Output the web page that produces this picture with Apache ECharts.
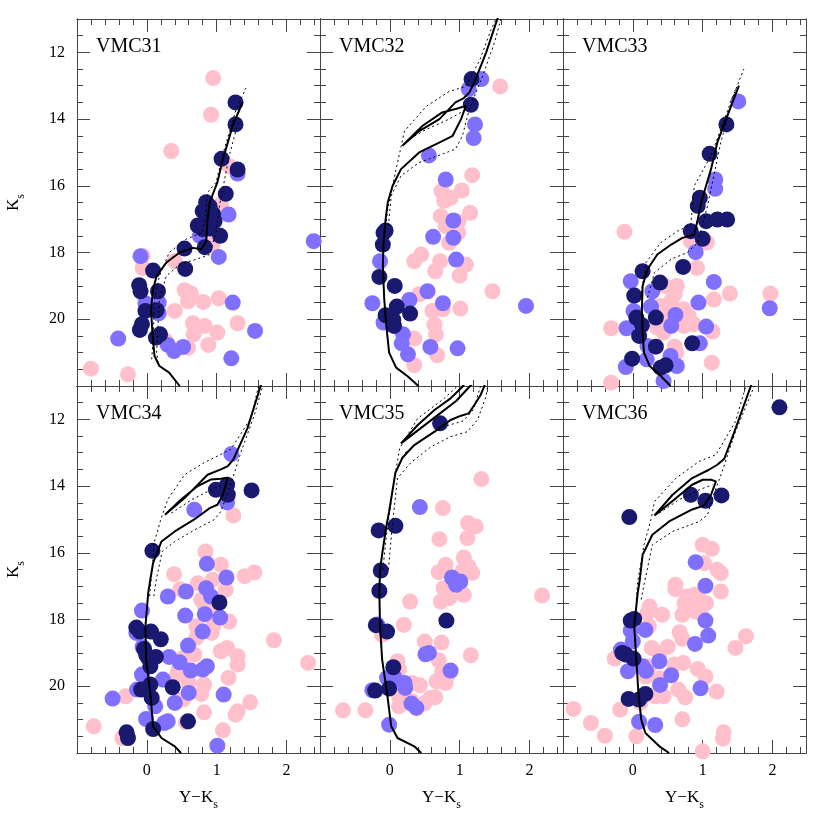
<!DOCTYPE html>
<html>
<head>
<meta charset="utf-8">
<title>VMC CMDs</title>
<script src="https://cdn.jsdelivr.net/npm/echarts@6/dist/echarts.min.js"></script>
<style>
    html, body { margin: 0; padding: 0; background: #ffffff; }
    #main { width: 830px; height: 830px; }
</style>
</head>
<body>
<div id="main"></div>
<script>
    // ---- data: [Y-Ks, Ks] ----
    var xTicks = [0, 1, 2];
    var yTicks = [12, 14, 16, 18, 20];

    var vmc31Pink = [[0.95,12.77],[0.92,13.87],[0.35,14.96],[1.18,15.41],[1.06,16.56],[0.98,17.4],[0.94,17.76],[-0.06,18.1],[-0.06,18.46],[0.40,18.26],[0.54,19.13],[0.63,19.22],[0.59,19.46],[0.81,19.48],[1.03,19.37],[0.40,19.75],[0.66,20.12],[0.83,20.2],[0.67,20.45],[1.01,20.4],[1.30,20.12],[0.27,20.65],[0.59,20.85],[0.88,20.77],[-0.80,21.48],[-0.27,21.65]];
    var vmc31Blue = [[1.30,15.63],[1.17,16.86],[0.76,17.5],[2.39,17.66],[1.03,18.13],[-0.09,18.11],[1.23,19.5],[-0.02,19.52],[0.17,19.5],[0.17,19.82],[1.55,20.35],[-0.41,20.58],[0.30,20.77],[0.39,20.95],[0.52,20.83],[1.21,21.17]];
    var vmc31Navy = [[1.27,13.5],[1.27,14.16],[1.07,15.19],[1.30,15.51],[1.13,16.24],[0.85,16.49],[0.90,16.62],[0.80,16.76],[0.95,16.85],[0.73,17.19],[0.97,17.06],[0.86,17.02],[0.80,17.3],[0.90,17.28],[1.05,17.5],[0.83,17.84],[0.54,17.88],[0.09,18.54],[0.55,18.49],[-0.11,18.98],[-0.09,19.16],[0.16,19.16],[-0.02,19.75],[0.14,19.73],[-0.07,20.15],[-0.10,20.32],[0.19,20.45],[0.13,20.55]];

    var vmc32Pink = [[1.58,13.02],[1.18,15.68],[0.74,16.16],[0.87,16.36],[1.03,16.14],[0.78,16.45],[1.15,16.81],[0.73,16.91],[0.80,17.21],[0.98,17.08],[0.98,17.4],[0.85,17.71],[0.45,18.06],[0.35,18.26],[0.72,18.26],[1.09,18.36],[0.65,18.56],[1.0,18.69],[0.42,19.25],[1.47,19.16],[0.61,19.75],[0.76,19.7],[1.01,19.68],[0.64,20.16],[0.66,20.45],[0.35,20.58],[0.68,21.08],[0.35,21.37]];
    var vmc32Blue = [[1.31,12.80],[1.13,13.10],[1.22,14.16],[1.20,14.57],[0.56,15.09],[0.80,15.81],[0.91,17.04],[0.62,17.53],[0.91,17.56],[-0.14,18.26],[0.95,18.21],[0.54,19.16],[0.28,19.42],[-0.25,19.52],[0.76,19.52],[1.95,19.6],[-0.09,20.1],[0.19,20.45],[0.17,20.72],[0.58,20.83],[0.97,20.87],[0.26,21.05]];
    var vmc32Navy = [[1.17,12.80],[1.16,13.57],[-0.06,17.34],[-0.09,17.41],[-0.10,17.76],[-0.15,18.73],[0.07,19.0],[0.10,19.62],[0.29,19.83],[-0.06,19.88],[0.05,20.02],[0.06,20.2]];

    var vmc33Pink = [[-0.12,17.38],[1.06,17.7],[0.83,17.66],[0.92,18.46],[0.46,19.0],[0.63,19.0],[0.60,19.25],[1.16,19.41],[1.39,19.23],[1.97,19.23],[0.40,19.6],[0.55,19.45],[0.45,19.85],[0.73,19.7],[0.80,19.9],[0.68,20.0],[0.50,20.1],[0.35,20.25],[0.87,20.15],[0.73,20.2],[-0.31,20.27],[1.14,20.37],[0.44,20.4],[0.60,20.82],[0.62,21.0],[1.13,21.3],[-0.31,21.9]];
    var vmc33Blue = [[1.51,13.47],[1.18,15.81],[1.18,16.09],[0.90,17.99],[-0.03,18.86],[1.16,18.88],[0.28,19.16],[0.94,19.5],[0.26,19.62],[1.96,19.67],[0.01,19.75],[0.61,19.87],[0.55,20.2],[-0.09,20.27],[1.05,20.22],[0.96,20.72],[0.21,20.8],[-0.10,21.43],[0.20,21.2],[0.54,21.1],[0.63,21.4],[0.44,21.85]];
    var vmc33Navy = [[1.34,14.16],[1.10,15.04],[0.96,16.36],[0.93,16.6],[1.05,17.06],[1.21,17.01],[1.35,17.01],[0.83,17.36],[1.00,17.59],[0.72,18.43],[0.14,18.56],[0.39,18.9],[0.02,19.29],[0.05,19.95],[0.33,19.95],[0.13,20.18],[0.09,20.5],[0.85,20.72],[0.33,20.82],[-0.01,21.18],[0.40,21.45],[0.47,21.38]];

    var vmc34Pink = [[1.24,14.88],[0.84,15.96],[1.06,16.36],[0.39,16.64],[1.54,16.59],[1.40,16.7],[0.48,17.09],[0.73,16.91],[0.94,16.81],[1.13,17.11],[0.78,17.41],[0.83,17.6],[0.97,17.8],[1.18,18.06],[0.71,18.2],[0.95,18.2],[0.93,18.4],[0.71,18.55],[1.82,18.62],[0.68,19.05],[0.52,19.15],[1.06,18.95],[1.15,18.85],[1.30,19.1],[1.30,19.35],[2.31,19.3],[0.45,19.53],[0.43,19.68],[0.82,19.95],[1.17,19.75],[0.60,19.9],[0.35,19.85],[0.78,20.23],[-0.30,20.3],[0.52,20.4],[1.48,20.48],[0.82,20.78],[1.30,20.75],[1.27,20.85],[0.56,21.08],[-0.76,21.2],[1.09,21.32],[-0.35,21.55]];
    var vmc34Blue = [[1.21,13.04],[1.15,14.49],[0.68,14.71],[0.86,16.33],[1.14,16.74],[0.56,17.16],[0.30,17.31],[0.85,17.06],[0.92,17.31],[-0.07,17.73],[0.55,17.88],[0.83,17.84],[1.05,17.94],[0.80,18.36],[-0.15,18.4],[0.59,18.78],[-0.06,18.82],[0.32,19.12],[0.47,19.28],[0.63,19.53],[0.80,19.5],[0.86,19.4],[-0.07,19.65],[0.23,19.8],[-0.14,20.1],[0.60,20.2],[1.10,20.25],[-0.49,20.37],[0.40,20.5],[0.12,20.6],[-0.01,20.98],[0.25,21.1],[0.30,21.05],[1.01,21.78]];
    var vmc34Navy = [[0.99,14.11],[1.15,13.96],[1.16,14.26],[1.50,14.13],[0.08,15.94],[1.04,17.49],[-0.15,18.24],[-0.10,18.36],[0.06,18.36],[0.20,18.59],[-0.04,18.88],[-0.01,19.05],[0.13,19.12],[0.02,19.15],[0.05,19.4],[0.05,19.95],[-0.08,20.1],[0.37,20.03],[0.07,20.35],[0.59,21.05],[0.09,21.28],[-0.29,21.38],[-0.27,21.55]];

    var vmc35Pink = [[1.31,13.79],[0.76,14.66],[1.12,15.11],[1.23,15.21],[0.71,15.59],[1.11,15.56],[1.06,16.14],[1.13,16.41],[1.18,16.6],[0.80,16.36],[0.70,16.58],[1.04,16.55],[0.77,17.06],[1.06,17.26],[0.85,17.36],[0.73,17.46],[0.29,17.46],[2.18,17.28],[0.20,18.16],[-0.11,18.46],[0.50,18.66],[0.74,18.69],[1.16,19.07],[0.70,19.22],[0.11,19.25],[0.13,19.5],[0.75,19.55],[0.82,19.7],[0.67,19.85],[0.80,19.9],[0.43,19.97],[0.32,19.9],[0.13,20.3],[0.13,20.6],[0.32,20.45],[0.49,20.52],[0.58,20.35],[0.65,20.33],[-0.67,20.72],[-0.35,20.72]];
    var vmc35Blue = [[0.43,14.63],[0.89,16.74],[1.01,16.86],[0.92,16.81],[0.95,16.96],[-0.18,18.15],[0.51,19.04],[0.56,19.0],[0.87,19.53],[-0.04,19.75],[0.07,19.75],[0.21,19.9],[0.22,20.05],[-0.25,20.12],[0.31,20.52],[0.38,20.65],[-0.01,21.15]];
    var vmc35Navy = [[0.72,12.12],[0.08,15.19],[-0.16,15.33],[-0.13,16.53],[-0.15,17.14],[0.81,18.03],[-0.20,18.17],[-0.04,18.36],[0.05,19.43],[-0.21,20.13],[-0.01,20.07]];

    var vmc36Pink = [[1.0,15.76],[1.13,15.88],[1.02,16.31],[1.21,16.51],[1.26,16.61],[0.61,16.96],[0.61,17.09],[1.26,17.16],[0.78,17.31],[0.88,17.26],[0.95,17.41],[1.05,17.51],[0.74,17.51],[0.85,17.61],[0.90,17.76],[0.71,17.86],[0.97,17.81],[0.24,17.61],[0.21,17.81],[0.42,17.86],[0.23,18.2],[0.67,18.38],[0.71,18.58],[1.62,18.5],[1.47,18.85],[0.27,18.85],[0.50,18.82],[0.38,19.02],[-0.26,19.17],[0.59,19.35],[0.72,19.3],[0.05,19.4],[0.24,19.4],[0.93,19.48],[1.04,19.71],[0.19,19.71],[0.38,19.76],[0.65,20.1],[0.75,20.33],[1.20,20.16],[0.32,20.3],[0.44,20.3],[0.11,20.5],[-0.18,20.7],[-0.85,20.68],[0.71,20.99],[-0.60,21.1],[-0.40,21.48],[0.05,21.5],[1.30,21.38],[1.29,21.57],[1.0,21.95]];
    var vmc36Blue = [[0.90,16.28],[1.04,16.99],[1.04,18.03],[0.18,18.31],[-0.03,18.33],[1.08,18.48],[0.89,18.73],[0.0,18.65],[-0.17,18.9],[0.38,19.25],[0.14,19.4],[0.19,19.54],[-0.07,19.55],[0.55,19.67],[0.39,19.96],[0.97,20.06],[0.09,21.06],[0.32,21.16]];
    var vmc36Navy = [[2.10,11.64],[0.83,14.26],[1.04,14.44],[1.27,14.28],[-0.05,14.93],[-0.03,18.03],[0.02,17.98],[-0.15,19.0],[-0.10,19.05],[0.01,19.17],[-0.06,20.38],[0.09,20.4],[0.18,20.23]];

    // isochrones (solid = best fit, dotted = neighbouring ages)
    var iso31 = [[0.47,22.0],[0.32,21.6],[0.18,21.4],[0.11,21.1],[0.08,20.4],[0.06,19.7],[0.09,19.1],[0.14,18.7],[0.28,18.3],[0.47,18.0],[0.66,17.86],[0.78,17.9],[0.85,17.66],[0.87,17.0],[0.90,16.5],[1.01,15.9],[1.09,15.2],[1.23,14.2],[1.37,13.5]];
    var iso31DotA = [[0.07,21.2],[0.09,20.6],[0.11,19.4],[0.18,18.7],[0.32,18.0],[0.56,17.6],[0.80,17.4],[0.85,16.7],[0.87,16.2],[0.99,15.9],[1.11,14.9],[1.28,13.7],[1.42,13.07]];
    var iso31DotB = [[0.16,21.3],[0.14,21.0],[0.18,19.4],[0.28,18.7],[0.47,18.36],[0.71,18.2],[0.90,18.06],[0.99,17.4],[1.04,16.6],[1.18,15.1],[1.32,14.0]];

    var iso32 = [[0.41,22.0],[0.25,21.7],[0.09,21.45],[-0.01,21.0],[-0.05,20.2],[-0.08,19.4],[-0.10,18.4],[-0.09,17.7],[-0.06,17.0],[-0.03,16.5],[0.04,16.0],[0.16,15.5],[0.42,15.0],[0.75,14.66],[0.90,14.5],[1.02,14.0],[1.09,13.6],[0.94,13.7],[0.75,13.8],[0.47,14.2],[0.18,14.8],[0.42,14.36],[0.71,14.0],[0.94,13.5],[1.06,13.37],[1.14,13.2],[1.21,12.9],[1.38,12.0],[1.54,11.0],[1.56,10.9]];
    var iso32DotA = [[-0.06,17.2],[-0.03,16.7],[0.09,15.5],[0.21,14.36],[0.52,13.62],[0.85,13.17],[1.09,13.02],[1.29,12.22],[1.45,11.32],[1.52,11.0]];
    var iso32DotB = [[-0.02,17.2],[0.02,16.3],[0.16,15.7],[0.42,15.3],[0.75,15.05],[0.94,14.9],[1.04,14.5],[1.14,13.7],[1.33,12.7],[1.50,11.7],[1.59,11.0]];
    var iso32DotC = [[0.23,14.66],[0.52,14.31],[0.85,14.0],[1.02,13.8]];

    var iso33 = [[0.54,22.0],[0.40,21.7],[0.24,21.4],[0.16,21.0],[0.14,20.4],[0.13,19.7],[0.14,19.0],[0.21,18.5],[0.35,18.06],[0.55,17.76],[0.71,17.56],[0.88,17.46],[0.93,17.0],[0.98,16.5],[1.02,16.2],[1.12,15.5],[1.21,14.7],[1.35,13.92],[1.52,13.0]];
    var iso33DotA = [[0.11,19.35],[0.19,18.3],[0.40,17.7],[0.64,17.36],[0.83,17.16],[0.88,16.0],[1.12,15.1],[1.40,13.5],[1.59,12.5]];
    var iso33DotB = [[0.21,19.35],[0.31,18.6],[0.55,18.2],[0.78,18.0],[0.93,17.7],[1.07,16.6],[1.26,14.7],[1.47,13.1]];

    var iso34 = [[0.49,22.0],[0.40,21.8],[0.21,21.55],[0.09,21.2],[0.05,20.2],[-0.01,19.2],[-0.02,18.2],[0.02,17.2],[0.05,16.8],[0.09,16.3],[0.21,15.66],[0.40,15.36],[0.68,15.0],[0.90,14.66],[1.01,14.56],[1.09,14.26],[1.16,13.75],[1.06,13.78],[0.92,13.8],[0.73,14.0],[0.49,14.4],[0.26,14.86],[0.54,14.36],[0.87,13.66],[1.06,13.5],[1.16,13.4],[1.24,13.2],[1.44,12.27],[1.63,11.0],[1.65,10.9]];
    var iso34DotA = [[0.04,17.3],[0.11,15.66],[0.20,15.0],[0.30,14.4],[0.54,13.66],[0.82,13.3],[1.01,13.1],[1.20,12.9],[1.49,11.97],[1.60,11.0]];
    var iso34DotB = [[0.10,17.3],[0.13,16.86],[0.22,15.96],[0.40,15.66],[0.73,15.26],[0.97,15.0],[1.06,14.76],[1.13,14.36],[1.23,13.76],[1.35,12.97],[1.54,11.87],[1.66,11.0]];
    var iso34DotC = [[0.35,14.81],[0.64,14.41],[0.92,14.11],[1.09,13.96]];

    var iso35 = [[0.45,22.0],[0.35,21.8],[0.11,21.55],[0.02,21.2],[-0.04,20.2],[-0.11,19.2],[-0.14,18.2],[-0.15,17.2],[-0.14,16.5],[-0.10,15.9],[-0.05,15.2],[-0.01,14.76],[0.08,13.6],[0.18,13.15],[0.35,12.77],[0.64,12.37],[0.87,12.02],[1.02,11.89],[1.13,11.82],[1.21,11.57],[1.30,11.27],[1.35,11.02],[1.37,10.9]];
    var iso35Loop = [[1.08,10.9],[1.04,11.02],[0.87,11.37],[0.64,11.72],[0.40,12.17],[0.16,12.72],[0.42,12.3],[0.70,11.85],[0.95,11.45],[1.15,11.0],[1.2,10.9]];
    var iso35DotA = [[-0.10,16.5],[-0.05,15.5],[0.05,14.0],[0.14,12.87],[0.40,11.97],[0.78,11.37],[0.97,11.0]];
    var iso35DotB = [[-0.02,16.5],[0.03,15.3],[0.11,13.76],[0.30,13.3],[0.59,12.82],[0.87,12.52],[1.11,12.37],[1.26,12.0],[1.38,11.3],[1.40,11.0]];
    var iso35DotC = [[0.22,13.0],[0.50,12.55],[0.80,12.2],[1.05,12.05],[1.20,11.7],[1.30,11.0]];

    var iso36 = [[0.52,22.0],[0.38,21.8],[0.18,21.4],[0.12,21.0],[0.08,20.2],[0.05,19.2],[0.02,18.2],[0.07,17.2],[0.10,16.8],[0.14,16.06],[0.28,15.46],[0.52,15.06],[0.85,14.7],[1.02,14.58],[1.12,14.26],[1.19,13.86],[1.12,13.81],[1.0,13.81],[0.85,13.96],[0.62,14.36],[0.31,14.88],[0.57,14.26],[0.85,13.76],[1.09,13.51],[1.21,13.36],[1.31,13.18],[1.45,12.4],[1.69,11.0],[1.71,10.9]];
    var iso36DotA = [[0.05,17.4],[0.07,16.86],[0.16,15.76],[0.26,15.0],[0.31,14.46],[0.62,13.76],[0.95,13.26],[1.19,13.06],[1.47,12.06],[1.62,11.0]];
    var iso36DotB = [[0.12,17.4],[0.16,16.96],[0.28,15.76],[0.57,15.36],[0.95,15.06],[1.07,14.86],[1.14,14.36],[1.28,13.56],[1.47,12.37],[1.74,11.0]];
    var iso36DotC = [[0.38,14.81],[0.66,14.41],[0.95,14.11],[1.14,13.96]];

    var panels = [
        {name: 'VMC31', pink: vmc31Pink, blue: vmc31Blue, navy: vmc31Navy, solid: [iso31], dotted: [iso31DotA, iso31DotB]},
        {name: 'VMC32', pink: vmc32Pink, blue: vmc32Blue, navy: vmc32Navy, solid: [iso32], dotted: [iso32DotA, iso32DotB, iso32DotC]},
        {name: 'VMC33', pink: vmc33Pink, blue: vmc33Blue, navy: vmc33Navy, solid: [iso33], dotted: [iso33DotA, iso33DotB]},
        {name: 'VMC34', pink: vmc34Pink, blue: vmc34Blue, navy: vmc34Navy, solid: [iso34], dotted: [iso34DotA, iso34DotB, iso34DotC]},
        {name: 'VMC35', pink: vmc35Pink, blue: vmc35Blue, navy: vmc35Navy, solid: [iso35, iso35Loop], dotted: [iso35DotA, iso35DotB, iso35DotC]},
        {name: 'VMC36', pink: vmc36Pink, blue: vmc36Blue, navy: vmc36Navy, solid: [iso36], dotted: [iso36DotA, iso36DotB, iso36DotC]}
    ];

    // ---- layout / style ----
    var colLeft = [77, 320, 563], rowTop = [19, 386], W = 243, H = 367;
    var xMin = -1, xMax = 2.48, yMin = 11, yMax = 22;
    var frame = '#444444';
    var font = '"Liberation Serif", "DejaVu Serif", serif';
    var colors = {pink: '#ffc0cb', blue: '#8070ff', navy: '#191970'};

    var richName = {
        a: {fontFamily: font, fontSize: 17, color: '#000', verticalAlign: 'bottom', padding: [0, 0, 5, 0]},
        s: {fontFamily: font, fontSize: 12, color: '#000', verticalAlign: 'bottom'}
    };

    function xAxisDef(gi, pos, major, labels) {
        var a = {
            type: 'value', gridIndex: gi, position: pos, min: xMin, max: xMax,
            axisLine: {show: true, onZero: false, lineStyle: {color: frame, width: 1}},
            splitLine: {show: false},
            axisTick: {show: true, inside: true, length: major ? 13 : 6, lineStyle: {color: frame}},
            axisLabel: {show: false}
        };
        if (major) {
            a.axisTick.customValues = xTicks;
            a.axisLabel = {show: labels, customValues: xTicks, margin: 10, color: '#000', fontFamily: font, fontSize: 16};
        } else {
            a.interval = 0.2;
        }
        if (labels) {
            a.name = '{a|Y\u2212K}{s|s}';
            a.nameLocation = 'middle';
            a.nameGap = 36;
            a.nameTextStyle = {rich: richName};
        }
        return a;
    }

    function yAxisDef(gi, pos, major, labels) {
        var a = {
            type: 'value', gridIndex: gi, position: pos, min: yMin, max: yMax, inverse: true,
            axisLine: {show: true, onZero: false, lineStyle: {color: frame, width: 1}},
            splitLine: {show: false},
            axisTick: {show: true, inside: true, length: major ? 13 : 6, lineStyle: {color: frame}},
            axisLabel: {show: false}
        };
        if (major) {
            a.axisTick.customValues = yTicks;
            a.axisLabel = {show: labels, customValues: yTicks, margin: 12, color: '#000', fontFamily: font, fontSize: 16};
        } else {
            a.interval = 0.5;
        }
        if (labels) {
            a.name = '{a|K}{s|s}';
            a.nameLocation = 'middle';
            a.nameGap = 50;
            a.nameRotate = 90;
            a.nameTextStyle = {rich: richName};
        }
        return a;
    }

    var grids = [], xAxes = [], yAxes = [], series = [], texts = [];

    panels.forEach(function (p, i) {
        var row = Math.floor(i / 3), col = i % 3;
        grids.push({left: colLeft[col], top: rowTop[row], width: W, height: H});

        xAxes.push(xAxisDef(i, 'bottom', false, false));
        xAxes.push(xAxisDef(i, 'bottom', true, row === 1));
        xAxes.push(xAxisDef(i, 'top', false, false));
        xAxes.push(xAxisDef(i, 'top', true, false));
        yAxes.push(yAxisDef(i, 'left', false, false));
        yAxes.push(yAxisDef(i, 'left', true, col === 0));
        yAxes.push(yAxisDef(i, 'right', false, false));
        yAxes.push(yAxisDef(i, 'right', true, false));

        var xi = i * 4, yi = i * 4;
        ['pink', 'blue', 'navy'].forEach(function (c, k) {
            series.push({
                type: 'scatter', xAxisIndex: xi, yAxisIndex: yi, data: p[c],
                symbolSize: 16, itemStyle: {color: colors[c], opacity: 1},
                z: 2 + k, silent: true, animation: false
            });
        });
        p.dotted.forEach(function (d) {
            series.push({
                type: 'line', xAxisIndex: xi, yAxisIndex: yi, data: d,
                symbol: 'none', clip: true, z: 6, silent: true, animation: false,
                lineStyle: {color: '#000', width: 1, type: [2, 3]}
            });
        });
        p.solid.forEach(function (d) {
            series.push({
                type: 'line', xAxisIndex: xi, yAxisIndex: yi, data: d,
                symbol: 'none', clip: true, z: 7, silent: true, animation: false,
                lineStyle: {color: '#000', width: 2}
            });
        });

        texts.push({
            type: 'text', left: colLeft[col] + 19, top: rowTop[row] + 18, z: 10,
            style: {text: p.name, font: '20px ' + font, fill: '#000'}
        });
    });

    var chart = echarts.init(document.getElementById('main'));
    chart.setOption({
        animation: false,
        backgroundColor: '#ffffff',
        grid: grids,
        xAxis: xAxes,
        yAxis: yAxes,
        series: series,
        graphic: texts
    });
</script>
</body>
</html>
